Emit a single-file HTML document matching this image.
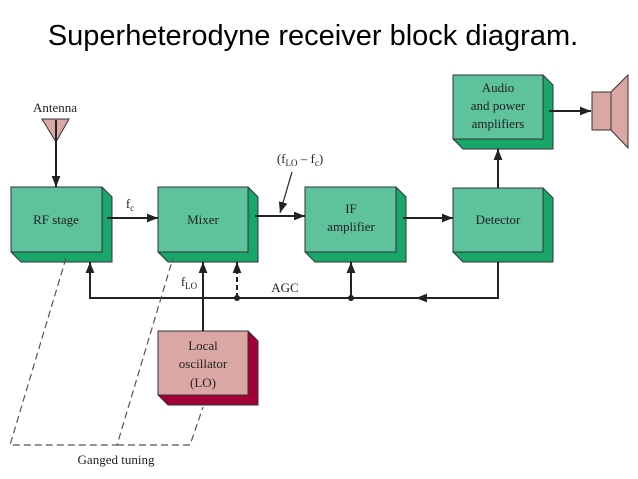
<!DOCTYPE html>
<html><head><style>
body{margin:0;background:#fff;width:638px;height:479px;overflow:hidden}
svg{display:block}
text{font-family:"Liberation Serif",serif;fill:#222}
</style></head><body>
<svg width="638" height="479" viewBox="0 0 638 479">
<defs>
<marker id="ah" viewBox="0 0 10 10" refX="10" refY="5" markerWidth="11" markerHeight="11" orient="auto-start-reverse" markerUnits="userSpaceOnUse"><path d="M0,1L10,5L0,9z" fill="#222"/></marker>
</defs>
<text x="313" y="45" text-anchor="middle" style="font-family:'Liberation Sans',sans-serif;font-size:29px;fill:#000">Superheterodyne receiver block diagram.</text>

<g stroke="#333" stroke-width="1">
<g fill="#18a66b">
<path d="M102,187L112,197L112,262L21,262L11,252z"/>
<path d="M248,187L258,197L258,262L168,262L158,252z"/>
<path d="M396,187L406,197L406,262L315,262L305,252z"/>
<path d="M543,188L553,198L553,262L463,262L453,252z"/>
<path d="M543,75L553,85L553,149L463,149L453,139z"/>
</g>
<g fill="#5ec29d">
<rect x="11" y="187" width="91" height="65"/>
<rect x="158" y="187" width="90" height="65"/>
<rect x="305" y="187" width="91" height="65"/>
<rect x="453" y="188" width="90" height="64"/>
<rect x="453" y="75" width="90" height="64"/>
</g>
<path d="M248,331L258,341L258,405L168,405L158,395z" fill="#a30038"/>
<rect x="158" y="331" width="90" height="64" fill="#dba7a5"/>
<path d="M42,119L69,119L56,142z" fill="#dba7a5"/>
<rect x="592" y="92" width="19" height="38" fill="#dba7a5"/>
<path d="M611,92L628,75L628,148L611,130z" fill="#dba7a5"/>
</g>

<g stroke="#222" stroke-width="2" fill="none">
<line x1="56" y1="120" x2="56" y2="187" marker-end="url(#ah)"/>
<line x1="107" y1="218" x2="158" y2="218" marker-end="url(#ah)"/>
<line x1="255" y1="216" x2="305" y2="216" marker-end="url(#ah)"/>
<line x1="403" y1="218" x2="453" y2="218" marker-end="url(#ah)"/>
<line x1="498" y1="188" x2="498" y2="149" marker-end="url(#ah)"/>
<line x1="549" y1="111" x2="591" y2="111" marker-end="url(#ah)"/>
<polyline points="498,262 498,298 90,298 90,262" marker-end="url(#ah)"/>
<line x1="480" y1="298" x2="416" y2="298" marker-end="url(#ah)"/>
<line x1="203" y1="331" x2="203" y2="262" marker-end="url(#ah)"/>
<line x1="351" y1="298" x2="351" y2="262" marker-end="url(#ah)"/>
<line x1="237" y1="298" x2="237" y2="262" stroke-dasharray="5,3" marker-end="url(#ah)"/>
</g>
<line x1="292" y1="172" x2="280" y2="213" stroke="#222" stroke-width="1.2" marker-end="url(#ah)"/>
<circle cx="237" cy="298" r="3" fill="#222"/>
<circle cx="351" cy="298" r="3" fill="#222"/>

<g stroke="#555" stroke-width="1.2" fill="none" stroke-dasharray="7,4">
<polyline points="66,258 10,445 117,445 173,258"/>
<polyline points="117,445 190,445 203,407"/>
</g>

<g font-size="13" text-anchor="middle">
<text x="55" y="112">Antenna</text>
<text x="56" y="224">RF stage</text>
<text x="203" y="224">Mixer</text>
<text x="351" y="213">IF</text>
<text x="351" y="231">amplifier</text>
<text x="498" y="224">Detector</text>
<text x="498" y="92">Audio</text>
<text x="498" y="110">and power</text>
<text x="498" y="128">amplifiers</text>
<text x="203" y="350">Local</text>
<text x="203" y="368">oscillator</text>
<text x="203" y="387">(LO)</text>
<text x="130" y="208">f<tspan font-size="9" dy="3">c</tspan></text>
<text x="300" y="163">(f<tspan font-size="9" dy="3">LO</tspan><tspan dy="-3"> – f</tspan><tspan font-size="9" dy="3">c</tspan><tspan dy="-3">)</tspan></text>
<text x="189" y="286">f<tspan font-size="9" dy="3">LO</tspan></text>
<text x="285" y="292">AGC</text>
<text x="116" y="464">Ganged tuning</text>
</g>
</svg>
</body></html>
